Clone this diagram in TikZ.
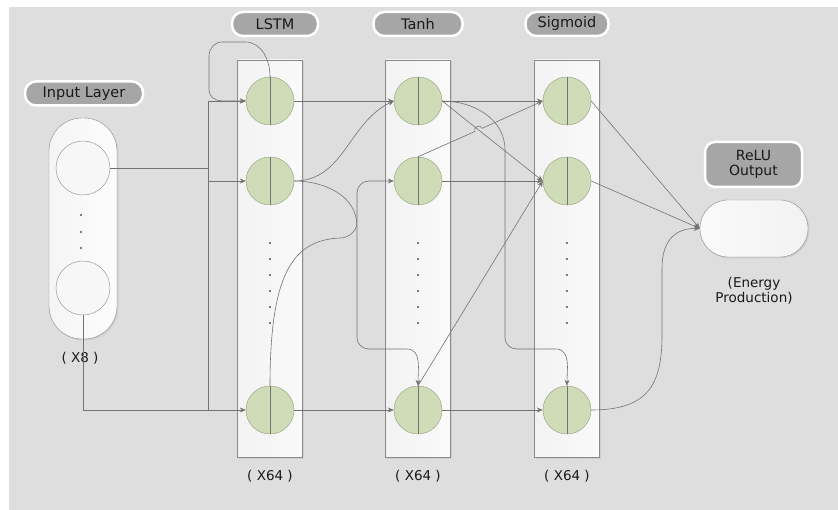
\documentclass[tikz,border=0pt]{standalone}
\usepackage{fontspec}
\setmainfont{DejaVu Sans}
\usetikzlibrary{arrows.meta, shadows}

\definecolor{bggray}{HTML}{DEDEDE}
\definecolor{cellgreen}{HTML}{D0DCB8}
\definecolor{cellline}{HTML}{8E9C7C}
\definecolor{wiregray}{HTML}{737373}
\definecolor{tabgray}{HTML}{A6A6A6}
\definecolor{boxline}{HTML}{8A8A8A}

\begin{document}
\begin{tikzpicture}[x=1pt, y=-1pt, font=\fontsize{13.5}{16}\selectfont]
\tikzstyle{tab} = [rectangle, rounded corners=11pt, fill=tabgray, draw=white, line width=2.5pt, text=black!90, minimum height=24pt, inner sep=2pt, font=\fontsize{14.5}{16}\selectfont]
\tikzstyle{column} = [rectangle, draw=boxline, left color=black!5, right color=black!2, minimum width=65pt, minimum height=397pt, drop shadow={opacity=0.15, shadow xshift=1.5pt, shadow yshift=-1.5pt}]
\tikzstyle{cell} = [circle, draw=cellline, fill=cellgreen, minimum size=48pt, inner sep=0pt]
\tikzstyle{unit} = [circle, draw=boxline, fill=black!3, minimum size=54pt, inner sep=0pt]
\tikzstyle{wire} = [draw=wiregray, line width=0.6pt]
\tikzstyle{arrow} = [wire, -{Stealth[length=6pt, width=5pt]}]

% canvas
\useasboundingbox (0,0) rectangle (838,510);
\fill[bggray] (9,7) rectangle (838,510);

% input layer
\node (intab) [tab, minimum width=118pt] at (84,93.5) {Input Layer};
\node (inlayer) [rectangle, rounded corners=33pt, draw=boxline, left color=black!4, right color=black!1, minimum width=68pt, minimum height=221pt, drop shadow={opacity=0.15, shadow xshift=1.5pt, shadow yshift=-1.5pt}] at (83,228.5) {};
\node (in1) [unit] at (83,168) {};
\node (in2) [unit] at (83,288) {};
\foreach \y in {215,232,248} \fill (81,\y) circle (0.8pt);
\node (inlabel) [text=black!90] at (80,358) {( X8 )};

% hidden layers
\node (lstmtab) [tab, minimum width=86pt] at (275,24) {LSTM};
\node (tanhtab) [tab, minimum width=89pt] at (418,24) {Tanh};
\node (sigtab) [tab, minimum width=83pt] at (567,24) {Sigmoid};
\foreach \name/\x in {lstm/270, tanh/418, sig/567} {
  \node (\name col) [column] at (\x,258.5) {};
  \node (\name1) [cell] at (\x,101) {};
  \node (\name2) [cell] at (\x,181) {};
  \node (\name3) [cell] at (\x,410) {};
  \foreach \k in {1,2,3} \draw[wiregray] (\name\k.north) -- (\name\k.south);
  \foreach \y in {243,259,...,323} \fill (\x,\y) circle (0.8pt);
  \node (\name count) [text=black!90] at (\x,476) {( X64 )};
}

% output layer
\node (outtab) [tab, rounded corners=10pt, minimum width=97pt, minimum height=45pt, align=center, font=\fontsize{14}{15.5}\selectfont] at (753.5,164.5) {ReLU\\Output};
\node (out) [rectangle, rounded corners=28pt, draw=boxline, left color=black!2, right color=black!5, minimum width=108pt, minimum height=57pt, drop shadow={opacity=0.15, shadow xshift=1.5pt, shadow yshift=-1.5pt}] at (754,228.5) {};
\node (outlabel) [align=center, text=black!90, font=\fontsize{13.5}{15.5}\selectfont] at (754,291) {(Energy\\Production)};

% input -> lstm
\coordinate (bustop) at (208,101);
\coordinate (busbot) at (208,410);
\draw[wire] (bustop) -- (busbot);
\draw[wire] (in1.east) -- (bustop |- in1.east);
\draw[arrow] (bustop) -- (lstm1.west);
\draw[arrow] (bustop |- lstm2.west) -- (lstm2.west);
\draw[arrow] (in2.south) |- (lstm3.west);
\draw[arrow] (lstm1.north) to[out=90, in=0] (245,42) -- (222,42) to[out=180, in=90] (209,56) -- (209,90) to[out=-90, in=180] (222,101) -- (lstm1.west);

% lstm -> tanh
\draw[arrow] (lstm1.east) -- (tanh1.west);
\draw[arrow] (lstm2.east) to[out=0, in=205] (tanh1.west);
\draw[arrow] (lstm2.east) to[out=0, in=90] (357,226) -- (357,338) to[out=-90, in=180] (369,349) -- (407,349) to[out=0, in=90] (tanh3.north);
\draw[arrow] (lstm3.north) .. controls (270,275) and (292,240) .. (340,238) to[out=0, in=-90] (357,222) -- (357,193) to[out=90, in=180] (369,181) -- (tanh2.west);
\draw[arrow] (lstm3.east) -- (tanh3.west);

% tanh -> sigmoid
\draw[arrow] (tanh1.east) -- (sig1.west);
\draw[arrow] (tanh1.east) -- (sig2.west);
\draw[arrow] (tanh1.east) to[out=0, in=90] (505,150) -- (505,338) to[out=-90, in=180] (517,349) -- (556,349) to[out=0, in=90] (sig3.north);
\draw[arrow] (tanh2.north) -- (474.9,131.5) .. controls (472.9,126.9) and (480.1,123.7) .. (482.1,128.3) -- (sig1.west);
\draw[arrow] (tanh2.east) -- (sig2.west);
\draw[arrow] (tanh3.north) -- (sig2.west);
\draw[arrow] (tanh3.east) -- (sig3.west);

% sigmoid -> output
\draw[arrow] (sig1.east) -- (out.west);
\draw[arrow] (sig2.east) -- (out.west);
\draw[arrow] (sig3.east) .. controls (648,410) and (662,385) .. (662,335) -- (662,268) .. controls (662,238) and (678,228) .. (out.west);
\end{tikzpicture}
\end{document}
